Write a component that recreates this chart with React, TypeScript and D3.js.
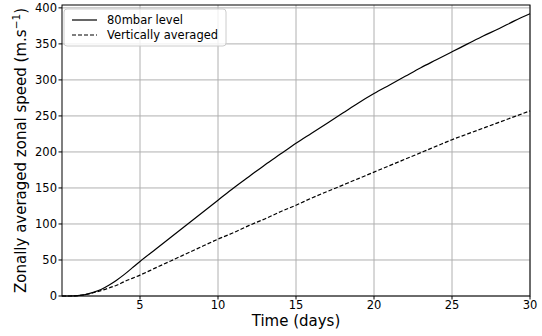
import React from "react";
import * as d3 from "d3";

const days = [0, 0.5, 1, 1.5, 2, 2.5, 3, 3.5, 4, 4.5, 5, 6, 7, 8, 9, 10, 11, 12, 13, 14, 15, 16, 17, 18, 19, 20, 21, 22, 23, 24, 25, 26, 27, 28, 29, 30];
const level80 = [0, 0, 0.5, 2, 5, 9, 15, 22, 30, 39, 48, 65, 82, 99, 116, 133, 150, 166, 182, 197, 212, 226, 240, 254, 268, 281, 293, 305, 317, 328, 339, 350, 361, 371, 382, 392];
const vertAvg = [0, 0, 0.5, 2, 4.5, 7.5, 11, 15, 20, 24.5, 29, 39, 49, 59, 69, 79, 88, 98, 107, 117, 126, 136, 145, 154, 163, 172, 181, 190, 199, 208, 217, 225, 233, 241, 249, 257];
const xTicks = [5, 10, 15, 20, 25, 30];
const yTicks = [0, 50, 100, 150, 200, 250, 300, 350, 400];
const seriesNames = ["80mbar level", "Vertically averaged"];

const W = 542, H = 336;
const L = 62, R = 530, T = 5, B = 296;
const FONT = "DejaVu Sans, sans-serif";

export default function App() {
  const x = d3.scaleLinear().domain([0, 30]).range([L, R]);
  const y = d3.scaleLinear().domain([0, 404]).range([B, T]);
  const line = d3
    .line<number>()
    .x((_, i) => x(days[i]))
    .y((v) => y(v))
    .curve(d3.curveMonotoneX);

  return (
    <svg width={W} height={H} style={{ position: "absolute", left: 0, top: 0 }}>
      <rect x={0} y={0} width={W} height={H} fill="#fff" />
      {xTicks.map((t) => (
        <line key={"gx" + t} x1={x(t)} x2={x(t)} y1={T} y2={B} stroke="#b0b0b0" strokeWidth={1} />
      ))}
      {yTicks.map((t) => (
        <line key={"gy" + t} x1={L} x2={R} y1={y(t)} y2={y(t)} stroke="#b0b0b0" strokeWidth={1} />
      ))}
      <path d={line(level80) || ""} fill="none" stroke="#000" strokeWidth={1.2} />
      <path d={line(vertAvg) || ""} fill="none" stroke="#000" strokeWidth={1.2} strokeDasharray="4,2" />
      <rect x={L} y={T} width={R - L} height={B - T} fill="none" stroke="#000" strokeWidth={1} />
      {xTicks.map((t) => (
        <g key={"tx" + t}>
          <line x1={x(t)} x2={x(t)} y1={B} y2={B + 3.5} stroke="#000" />
          <text x={x(t)} y={309} textAnchor="middle" fontFamily={FONT} fontSize={11.5} fill="#000">
            {t}
          </text>
        </g>
      ))}
      {yTicks.map((t) => (
        <g key={"ty" + t}>
          <line x1={L - 3.5} x2={L} y1={y(t)} y2={y(t)} stroke="#000" />
          <text x={L - 5} y={y(t) + 4} textAnchor="end" fontFamily={FONT} fontSize={11.5} fill="#000">
            {t}
          </text>
        </g>
      ))}
      <text x={(L + R) / 2} y={326} textAnchor="middle" fontFamily={FONT} fontSize={15} fill="#000">
        Time (days)
      </text>
      <text
        transform={`translate(26,${(T + B) / 2}) rotate(-90)`}
        textAnchor="middle"
        fontFamily={FONT}
        fontSize={15}
        fill="#000"
      >
        Zonally averaged zonal speed (m.s
        <tspan fontSize={10.5} dy={-6}>−1</tspan>
        <tspan dy={6}>)</tspan>
      </text>
      <g>
        <rect x={64} y={9} width={162} height={37} rx={3} fill="#fff" fillOpacity={0.8} stroke="#cccccc" strokeWidth={1} />
        <line x1={72} x2={97} y1={20} y2={20} stroke="#000" strokeWidth={1.2} />
        <line x1={72} x2={97} y1={35} y2={35} stroke="#000" strokeWidth={1.2} strokeDasharray="4,2" />
        <text x={107} y={24} fontFamily={FONT} fontSize={11.5} fill="#000">{seriesNames[0]}</text>
        <text x={107} y={39} fontFamily={FONT} fontSize={11.5} fill="#000">{seriesNames[1]}</text>
      </g>
    </svg>
  );
}
